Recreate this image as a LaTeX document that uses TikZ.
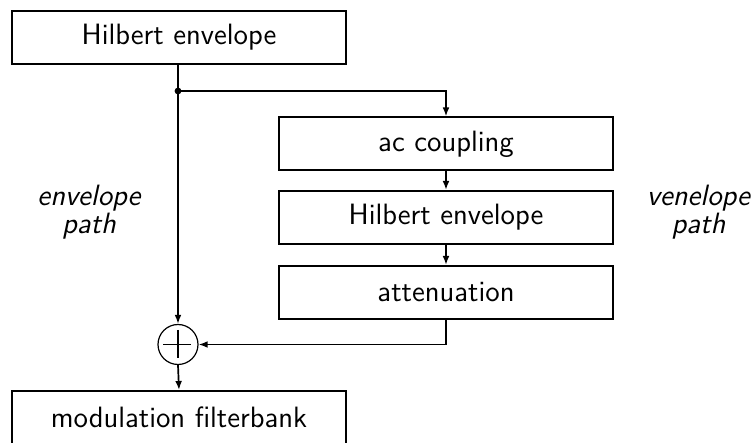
\documentclass[tikz,border=0pt]{standalone}
\usetikzlibrary{arrows.meta}
\begin{document}
\begin{tikzpicture}[x=0.5pt,y=-0.5pt,
  font=\sffamily\fontsize{14.7}{17}\selectfont,
  block/.style={draw,line width=1pt,minimum width=167pt,minimum height=26.5pt,inner sep=0pt},
  sumnode/.style={draw,circle,line width=0.6pt,minimum size=20pt,inner sep=0pt},
  wire/.style={line width=0.85pt},
  flow/.style={wire,-{Latex[length=4.5pt,width=3.4pt]}},
  pathlabel/.style={align=center,font=\sffamily\itshape\fontsize{14.7}{14}\selectfont}]
  \useasboundingbox (0,0) rectangle (752,443);
  \begin{scope}
    \clip (0,0) rectangle (752,443);
    % main chain
    \node[block] (top) at (179,37.5) {Hilbert envelope};
    \node[block,minimum height=28.5pt,text height=10.5pt,text depth=2pt]
      (bot) at (179,419.5) {modulation filterbank};
    % side chain
    \node[block] (ac)  at (446,144) {ac coupling};
    \node[block] (hil) at (446,217.5) {Hilbert envelope};
    \node[block] (att) at (446,292.5) {attenuation};
    % summing point
    \node[sumnode] (sum) at (178,344.5) {};
    \draw[line width=0.9pt] (sum.north) ++(0,6) -- ++(0,28)
                            (sum.west) ++(6,0) -- ++(28,0);
    % branch point
    \coordinate (split) at (178,91);
    \fill (split) circle (3.4);
    % connectors
    \draw[wire] (top.south -| split) -- (split);
    \draw[flow] (split) -- (sum.north);
    \draw[flow] (split) -| (ac.north);
    \draw[flow] (ac) -- (hil);
    \draw[flow] (hil) -- (att);
    \draw[flow] (att.south) |- (sum.east);
    \draw[flow] (sum.south) -- (bot.north);
    % path labels
    \node[pathlabel] (lenv) at (89,212) {envelope\\path};
    \node[pathlabel] (lven) at (698.5,212) {venelope\\path};
  \end{scope}
\end{tikzpicture}
\end{document}
